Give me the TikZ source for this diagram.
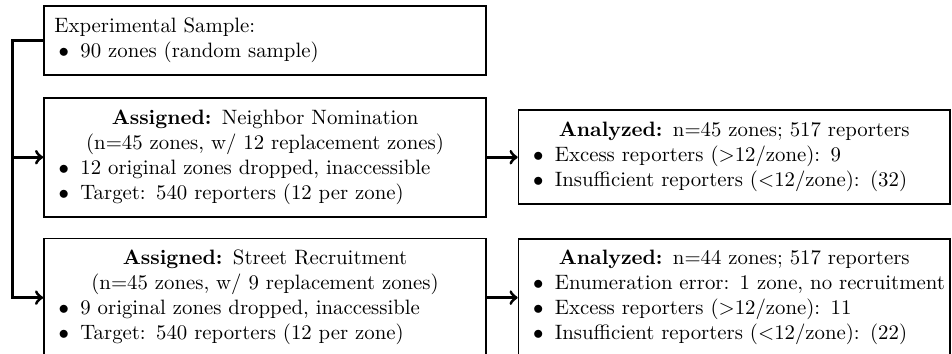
\documentclass[tikz,border=0pt]{standalone}
\usepackage{tikz}
\usetikzlibrary{arrows,positioning}

\newcommand{\zitem}[1]{\mbox{\hspace*{2pt}$\bullet$\hspace{5.5pt}#1}}

\begin{document}
\begin{tikzpicture}
\tikzstyle{stage} = [draw, thick, inner xsep=5pt, inner ysep=2pt,
  text width=7.12cm, font=\normalsize]
\tikzstyle{result} = [stage, text width=6.94cm]
\tikzstyle{flow} = [line width=1.5pt]

\useasboundingbox (0,0) rectangle (16.09,-5.97);

\coordinate (origin) at (0.73,-0.085);
\node[stage, anchor=north west, minimum height=1.17cm] (sample) at (origin) {
  Experimental Sample: \\
  \zitem{90 zones (random sample)}
  };

\node[stage, below=0.355cm of sample, minimum height=2.01cm] (neighbor) {
  \centering \textbf{Assigned:} Neighbor Nomination \\
  (n=45 zones, w/ 12 replacement zones) \par \raggedright
  \zitem{12 original zones dropped, inaccessible} \\
  \zitem{Target: 540 reporters (12 per zone)}
  };

\node[stage, below=0.34cm of neighbor, minimum height=2.0cm] (street) {
  \centering \textbf{Assigned:} Street Recruitment \\
  (n=45 zones, w/ 9 replacement zones) \par \raggedright
  \zitem{9 original zones dropped, inaccessible} \\
  \zitem{Target: 540 reporters (12 per zone)}
  };

\node[result, right=0.52cm of neighbor, minimum height=1.59cm] (neighborOut) {
  \centering \textbf{Analyzed:} n=45 zones; 517 reporters \par \raggedright
  \zitem{Excess reporters ($>$12/zone): 9} \\
  \zitem{Insufficient reporters ($<$12/zone): (32)}
  };

\node[result, right=0.52cm of street, minimum height=1.98cm] (streetOut) {
  \centering \textbf{Analyzed:} n=44 zones; 517 reporters \par \raggedright
  \zitem{Enumeration error: 1 zone, no recruitment} \\
  \zitem{Excess reporters ($>$12/zone): 11} \\
  \zitem{Insufficient reporters ($<$12/zone): (22)}
  };

% split of the sample
\coordinate (trunk) at (0.21,0 |- sample.west);
\draw[flow, ->] (sample.west) -- (trunk) |- (street.west);
\coordinate (branch) at (trunk |- neighbor.west);
\draw[flow, ->] (branch) -- (neighbor.west);

% analysis
\draw[flow, ->] (neighbor.east) -- (neighborOut.west);
\draw[flow, ->] (street.east) -- (streetOut.west);
\end{tikzpicture}
\end{document}
